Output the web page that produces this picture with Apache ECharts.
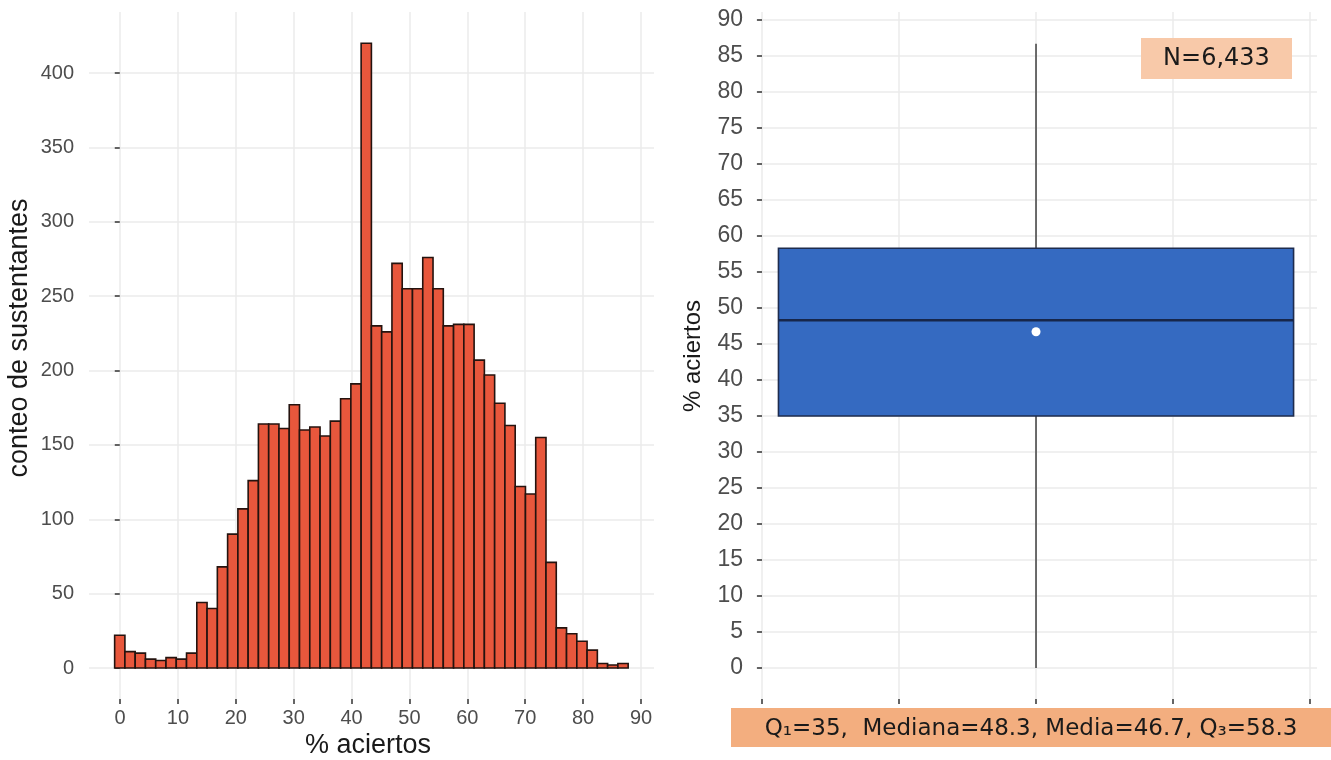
<!DOCTYPE html>
<html>
<head>
<meta charset="utf-8">
<script src="https://cdn.jsdelivr.net/npm/echarts@6/dist/echarts.min.js"></script>
<style>
html,body{margin:0;padding:0;background:#fff;}
#chart{width:1331px;height:760px;}
</style>
</head>
<body>
<div id="chart"></div>
<script>
// ---------- data ----------
const binWidth = 1.7687;
const binFirstCenter = 0;
const histCounts = [22, 11, 10, 6, 5, 7, 6, 10, 44, 40, 68, 90, 107, 126, 164, 164, 161, 177, 160, 162,
  156, 166, 181, 191, 420, 230, 226, 272, 255, 255, 276, 255, 230, 231, 231, 207, 197, 178, 163, 122,
  117, 155, 71, 27, 23, 18, 12, 3, 2, 3];
const histXTicks = [0, 10, 20, 30, 40, 50, 60, 70, 80, 90];
const histYTicks = [0, 50, 100, 150, 200, 250, 300, 350, 400];
const boxValues = [0, 35, 48.3, 58.3, 86.7];   // min, Q1, median, Q3, max
const boxMean = 46.7;
const boxTicks = [0, 5, 10, 15, 20, 25, 30, 35, 40, 45, 50, 55, 60, 65, 70, 75, 80, 85, 90];
const nLabel = 'N=6,433';
const statsLabel = 'Q\u2081=35,  Mediana=48.3, Media=46.7, Q\u2083=58.3';
const histXTitle = '% aciertos';
const histYTitle = 'conteo de sustentantes';
const boxYTitle = '% aciertos';

// ---------- styles ----------
const gridColor = '#EBEBEB';
const tickColor = '#333333';
const labelColor = '#4D4D4D';
const fontSans = 'Liberation Sans, Arial, sans-serif';
const fontVer = 'DejaVu Sans, Verdana, sans-serif';

const chart = echarts.init(document.getElementById('chart'), null, {renderer: 'canvas'});

const histData = histCounts.map((c, i) => {
  const center = binFirstCenter + i * binWidth;
  return [center - binWidth / 2, center + binWidth / 2, c];
});

const option = {
  animation: false,
  backgroundColor: '#ffffff',
  grid: [
    // 0: histogram bars + y axis
    {left: 89, right: 1331 - 654, top: 73, bottom: 760 - 668},
    // 1: histogram x axis (vertical grid lines)
    {left: 120, right: 1331 - 641, top: 12, bottom: 760 - 699},
    // 2: box + y axis
    {left: 756, right: 1331 - 1317, top: 20, bottom: 760 - 668},
    // 3: box x axis (vertical grid lines)
    {left: 762, right: 1331 - 1310, top: 12, bottom: 760 - 699}
  ],
  xAxis: [
    {gridIndex: 0, type: 'value', min: -5.3, max: 92, show: false},
    {gridIndex: 1, type: 'value', min: 0, max: 90, interval: 10,
      axisLine: {show: false},
      axisTick: {show: true, length: 5, lineStyle: {color: tickColor, width: 1.5}},
      axisLabel: {show: true, margin: 9, color: labelColor, fontSize: 20, fontFamily: fontSans},
      splitLine: {show: true, lineStyle: {color: gridColor, width: 1.5}}},
    {gridIndex: 2, type: 'value', min: -0.044, max: 4.051, show: false},
    {gridIndex: 3, type: 'value', min: 0, max: 4, interval: 1,
      axisLine: {show: false},
      axisTick: {show: true, length: 5, lineStyle: {color: tickColor, width: 1.5}},
      axisLabel: {show: false},
      splitLine: {show: true, lineStyle: {color: gridColor, width: 1.5}}}
  ],
  yAxis: [
    {gridIndex: 0, type: 'value', min: 0, max: 400, interval: 50,
      axisLine: {show: false},
      axisTick: {show: true, length: 5, lineStyle: {color: tickColor, width: 1.5}},
      axisLabel: {show: true, margin: 15, color: labelColor, fontSize: 20, fontFamily: fontSans},
      splitLine: {show: true, lineStyle: {color: gridColor, width: 1.5}}},
    {gridIndex: 1, type: 'value', min: 0, max: 1, show: false},
    {gridIndex: 2, type: 'value', min: 0, max: 90, interval: 5,
      axisLine: {show: false},
      axisTick: {show: true, length: 5, lineStyle: {color: tickColor, width: 1.5}},
      axisLabel: {show: true, margin: 13, color: labelColor, fontSize: 23, fontFamily: fontSans},
      splitLine: {show: true, lineStyle: {color: gridColor, width: 1.5}}},
    {gridIndex: 3, type: 'value', min: 0, max: 1, show: false}
  ],
  series: [
    {
      type: 'custom',
      xAxisIndex: 0, yAxisIndex: 0,
      encode: {x: [0, 1], y: 2},
      clip: false,
      data: histData,
      renderItem: function (params, api) {
        const p0 = api.coord([api.value(0), api.value(2)]);
        const p1 = api.coord([api.value(1), 0]);
        return {
          type: 'rect',
          shape: {x: p0[0], y: p0[1], width: p1[0] - p0[0], height: p1[1] - p0[1]},
          style: {fill: '#E8573C', stroke: '#24130F', lineWidth: 1.6}
        };
      }
    },
    {
      type: 'custom',
      xAxisIndex: 2, yAxisIndex: 2,
      encode: {x: 0, y: [1, 2, 3, 4, 5]},
      data: [[2].concat(boxValues)],
      renderItem: function (params, api) {
        const cx = api.value(0);
        const half = 1.88;
        const pMin = api.coord([cx, api.value(1)]);
        const pQ1 = api.coord([cx, api.value(2)]);
        const pMed = api.coord([cx, api.value(3)]);
        const pQ3 = api.coord([cx, api.value(4)]);
        const pMax = api.coord([cx, api.value(5)]);
        const left = api.coord([cx - half, 0])[0];
        const right = api.coord([cx + half, 0])[0];
        return {
          type: 'group',
          children: [
            {type: 'line', shape: {x1: pMin[0], y1: pMin[1], x2: pMax[0], y2: pMax[1]},
              style: {stroke: '#4A4A4A', lineWidth: 1.6}},
            {type: 'rect', shape: {x: left, y: pQ3[1], width: right - left, height: pQ1[1] - pQ3[1]},
              style: {fill: '#356AC1', stroke: '#1E2C4E', lineWidth: 1.6}},
            {type: 'line', shape: {x1: left, y1: pMed[1], x2: right, y2: pMed[1]},
              style: {stroke: '#17264A', lineWidth: 2.6}}
          ]
        };
      }
    },
    {
      type: 'scatter',
      xAxisIndex: 2, yAxisIndex: 2,
      symbol: 'circle', symbolSize: 9,
      itemStyle: {color: '#FFFFFF', opacity: 1},
      data: [[2, boxMean]],
      z: 5
    }
  ],
  graphic: [
    {type: 'text', z: 100, left: 305, top: 732, style: {text: histXTitle, fontSize: 27, fontFamily: fontSans, fill: '#1A1A1A'}},
    {type: 'text', z: 100, x: 20, y: 338, rotation: Math.PI / 2,
      style: {text: histYTitle, fontSize: 27, fontFamily: fontSans, fill: '#1A1A1A', align: 'center', verticalAlign: 'middle'}},
    {type: 'text', z: 100, x: 693, y: 356, rotation: Math.PI / 2,
      style: {text: boxYTitle, fontSize: 24, fontFamily: fontSans, fill: '#1A1A1A', align: 'center', verticalAlign: 'middle'}},
    {type: 'rect', z: 100, shape: {x: 1141, y: 38, width: 151, height: 41}, style: {fill: '#F8C9A9'}},
    {type: 'text', z: 101, x: 1216.5, y: 59, style: {text: nLabel, fontSize: 24, fontFamily: fontVer, fill: '#1A1A1A', align: 'center', verticalAlign: 'middle'}},
    {type: 'rect', z: 100, shape: {x: 731, y: 708, width: 600, height: 39}, style: {fill: '#F3AE7F'}},
    {type: 'text', z: 101, x: 1031, y: 729, style: {text: statsLabel, fontSize: 23, fontFamily: fontVer, fill: '#1A1A1A', align: 'center', verticalAlign: 'middle'}}
  ]
};
chart.setOption(option);
</script>
</body>
</html>
